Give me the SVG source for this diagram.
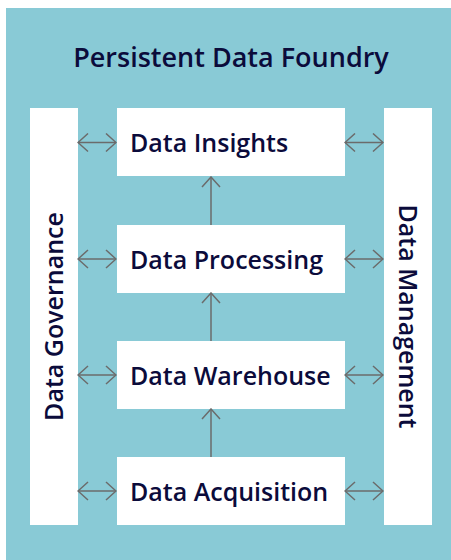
<svg xmlns="http://www.w3.org/2000/svg" width="451" height="560" viewBox="0 0 451 560">
<defs>
<marker id="ah" viewBox="0 0 12 20" refX="11" refY="10" markerWidth="12" markerHeight="20" markerUnits="userSpaceOnUse" orient="auto-start-reverse">
<path d="M1,1 L11,10 L1,19" fill="none" stroke="#6b6b6b" stroke-width="1.5"/>
</marker>
<style>
.bar{fill:#ffffff}
.node{fill:#ffffff}
.lbl{font-family:"Open Sans",Lato,sans-serif;font-size:25px;fill:#0b0b3b;font-weight:600}
.ttl{font-family:"Open Sans",Lato,sans-serif;font-size:27px;fill:#0b0b3b;font-weight:600}
.c{stroke:#6b6b6b;stroke-width:1.5;fill:none;marker-end:url(#ah)}
.d{marker-start:url(#ah)}
</style>
</defs>
<rect x="6" y="8" width="445" height="552" fill="#89cad6"/>
<text class="ttl" x="231" y="67" text-anchor="middle">Persistent Data Foundry</text>
<g id="governance"><rect class="bar" x="30" y="108" width="48" height="417"/><text class="lbl" transform="translate(63,316.5) rotate(-90)" text-anchor="middle">Data Governance</text></g>
<g id="management"><rect class="bar" x="384" y="108" width="48" height="417"/><text class="lbl" transform="translate(399,316.5) rotate(90)" text-anchor="middle">Data Management</text></g>
<g id="insights"><rect class="node" x="117" y="108" width="228" height="68"/><text class="lbl" x="130" y="152">Data Insights</text></g>
<g id="processing"><rect class="node" x="117" y="225" width="228" height="68"/><text class="lbl" x="130" y="269">Data Processing</text></g>
<g id="warehouse"><rect class="node" x="117" y="341" width="228" height="68"/><text class="lbl" x="130" y="385">Data Warehouse</text></g>
<g id="acquisition"><rect class="node" x="117" y="457" width="228" height="68"/><text class="lbl" x="130" y="501">Data Acquisition</text></g>
<g id="connectors">
<line class="c d" x1="78" y1="142.5" x2="116" y2="142.5"/>
<line class="c d" x1="78" y1="259" x2="116" y2="259"/>
<line class="c d" x1="78" y1="375" x2="116" y2="375"/>
<line class="c d" x1="78" y1="491" x2="116" y2="491"/>
<line class="c d" x1="345" y1="142.5" x2="383" y2="142.5"/>
<line class="c d" x1="345" y1="259" x2="383" y2="259"/>
<line class="c d" x1="345" y1="375" x2="383" y2="375"/>
<line class="c d" x1="345" y1="491" x2="383" y2="491"/>
<line class="c" x1="211" y1="225" x2="211" y2="177"/>
<line class="c" x1="211" y1="341" x2="211" y2="293"/>
<line class="c" x1="211" y1="457" x2="211" y2="409"/>
</g>
</svg>
